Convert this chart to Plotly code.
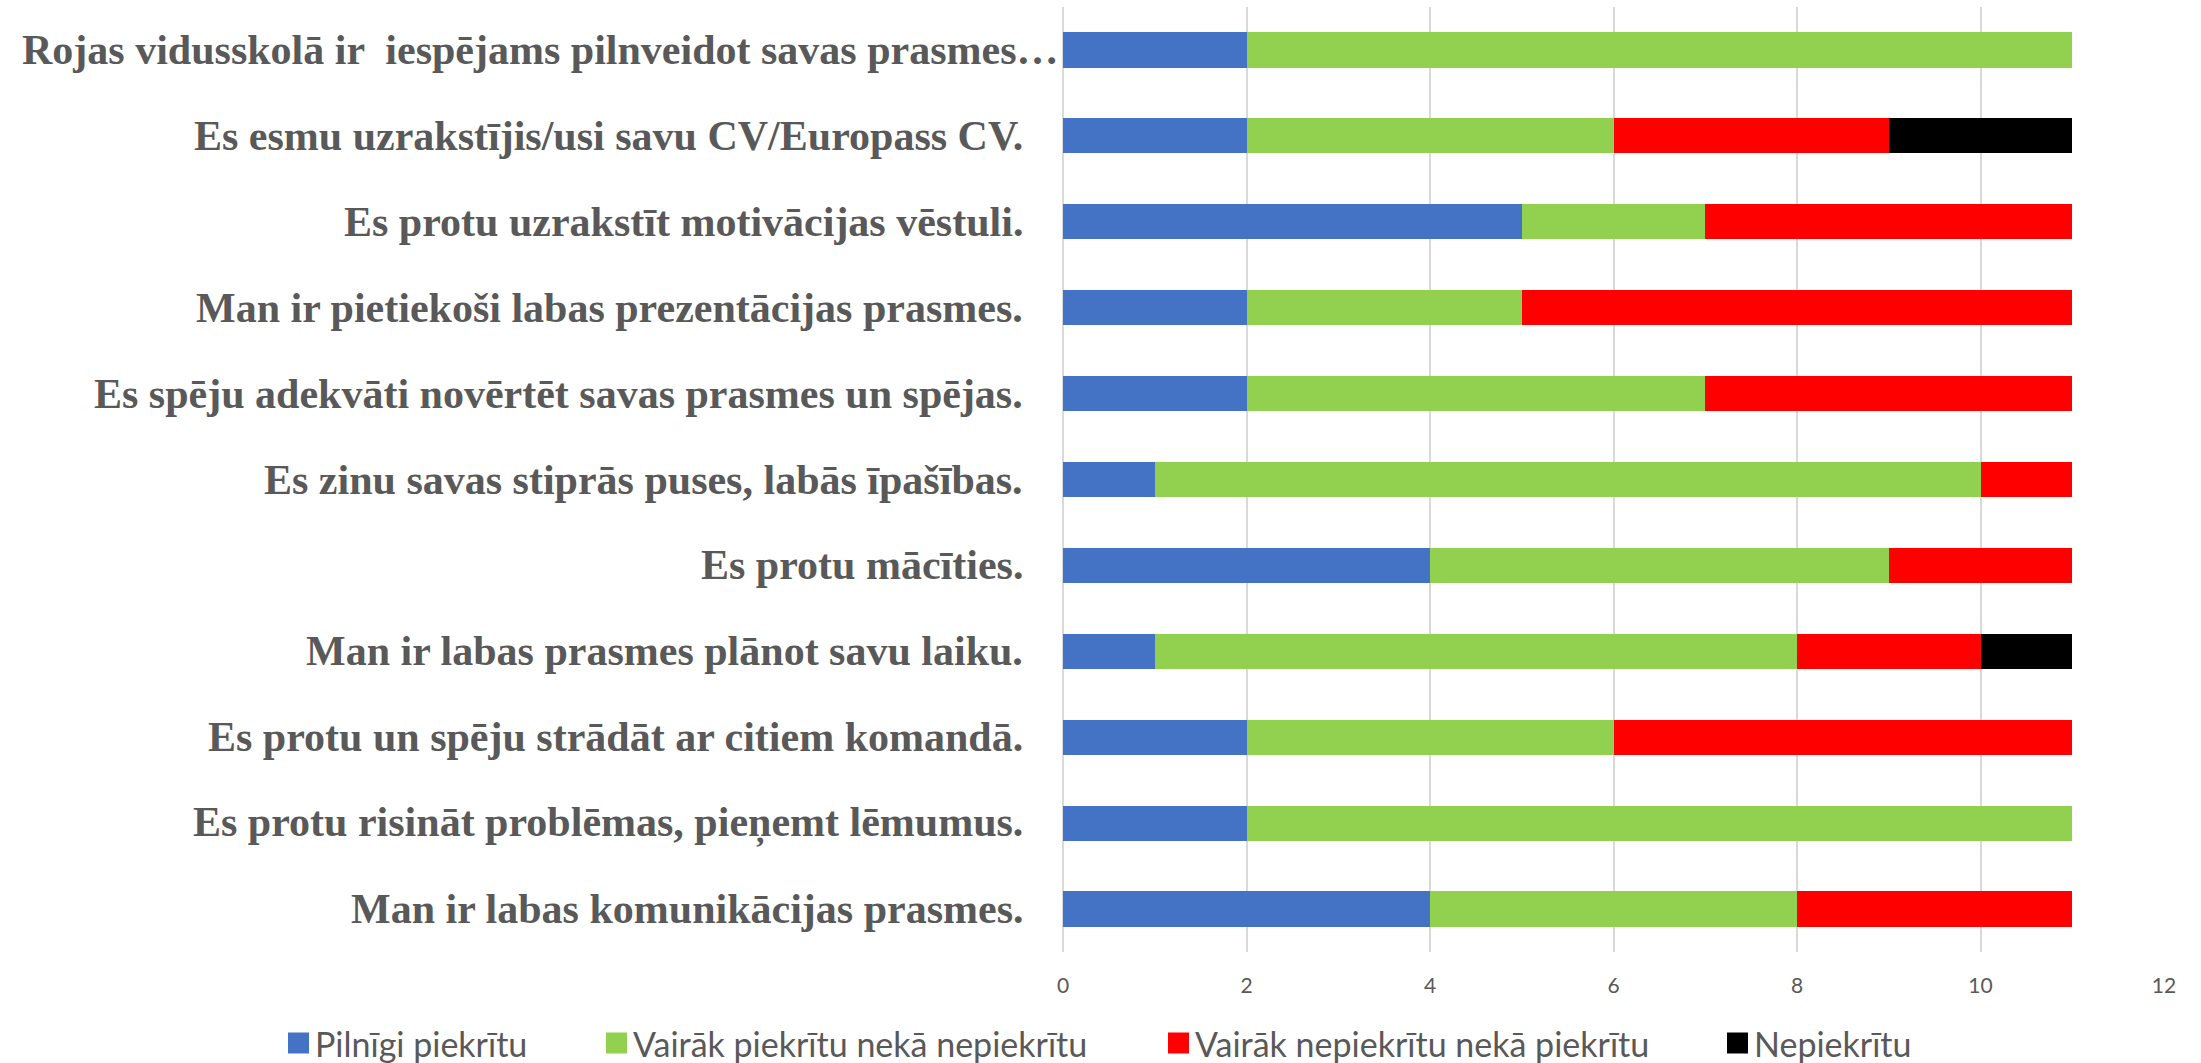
import plotly.graph_objects as go

categories = [
    "Rojas vidusskolā ir  iespējams pilnveidot savas prasmes…",
    "Es esmu uzrakstījis/usi savu CV/Europass CV.",
    "Es protu uzrakstīt motivācijas vēstuli.",
    "Man ir pietiekoši labas prezentācijas prasmes.",
    "Es spēju adekvāti novērtēt savas prasmes un spējas.",
    "Es zinu savas stiprās puses, labās īpašības.",
    "Es protu mācīties.",
    "Man ir labas prasmes plānot savu laiku.",
    "Es protu un spēju strādāt ar citiem komandā.",
    "Es protu risināt problēmas, pieņemt lēmumus.",
    "Man ir labas komunikācijas prasmes.",
]

series_names = [
    "Pilnīgi piekrītu",
    "Vairāk piekrītu nekā nepiekrītu",
    "Vairāk nepiekrītu nekā piekrītu",
    "Nepiekrītu",
]

pilnigi = [2, 2, 5, 2, 2, 1, 4, 1, 2, 2, 4]
vairak_piekritu = [9, 4, 2, 3, 5, 9, 5, 7, 4, 9, 4]
vairak_nepiekritu = [0, 3, 4, 6, 4, 1, 2, 2, 5, 0, 3]
nepiekritu = [0, 2, 0, 0, 0, 0, 0, 1, 0, 0, 0]

x_ticks = [0, 2, 4, 6, 8, 10, 12]

colors = ["#4472C4", "#92D050", "#FF0000", "#000000"]
series_values = [pilnigi, vairak_piekritu, vairak_nepiekritu, nepiekritu]

W, H = 2201, 1063
ML, MR, MT, MB = 1063, 37, 7, 111
PW = W - ML - MR
PH = H - MT - MB

fig = go.Figure()
for name, vals, col in zip(series_names, series_values, colors):
    fig.add_trace(go.Bar(
        y=categories, x=vals, name=name, orientation="h",
        marker=dict(color=col, line=dict(width=0)),
        showlegend=False,
    ))

label_font = dict(family="Liberation Serif, Times New Roman, serif", size=42, color="#595959")
annotations = []
for cat in categories:
    annotations.append(dict(
        x=0, y=cat, xref="x", yref="y", text="<b>" + cat + "</b>",
        showarrow=False, xanchor="right", yanchor="middle",
        xshift=-2 if cat.endswith("…") else -38,
        font=label_font,
    ))

# manual legend
legend_font = dict(family="Lato, Calibri, sans-serif", size=34, color="#595959")
sq_left = [288, 606, 1168, 1727]
sq = 21
cy = 1043
shapes = []
for left, name, col in zip(sq_left, series_names, colors):
    x0 = (left - ML) / PW
    x1 = (left + sq - ML) / PW
    y0 = (H - MB - (cy + sq / 2)) / PH
    y1 = (H - MB - (cy - sq / 2)) / PH
    shapes.append(dict(type="rect", xref="paper", yref="paper", x0=x0, x1=x1, y0=y0, y1=y1,
                       fillcolor=col, line=dict(width=0), layer="above"))
    annotations.append(dict(
        x=(left + sq + 4 - ML) / PW, y=(H - MB - cy) / PH, xref="paper", yref="paper",
        text=name, showarrow=False, xanchor="left", yanchor="middle", font=legend_font,
    ))

fig.update_layout(
    width=W, height=H,
    margin=dict(l=ML, r=MR, t=MT, b=MB, pad=0),
    barmode="stack",
    bargap=0.59,
    plot_bgcolor="white",
    paper_bgcolor="white",
    showlegend=False,
    annotations=annotations,
    shapes=shapes,
    xaxis=dict(
        range=[0, 12], tickvals=x_ticks, ticktext=[str(v) for v in x_ticks],
        showgrid=True, gridcolor="#D9D9D9", gridwidth=1.5,
        zeroline=True, zerolinecolor="#D9D9D9", zerolinewidth=1.5,
        showline=False, ticks="", ticklabelstandoff=19,
        tickfont=dict(family="Lato, Calibri, sans-serif", size=21, color="#595959"),
        fixedrange=True,
    ),
    yaxis=dict(
        categoryorder="array", categoryarray=categories,
        range=[10.5, -0.5], showticklabels=False, showgrid=False,
        zeroline=False, showline=False, ticks="",
        fixedrange=True,
    ),
)

fig.write_html(
    "out.html",
    config={"displayModeBar": False},
    post_script="document.body.style.margin='0';document.body.style.overflow='hidden';",
)
